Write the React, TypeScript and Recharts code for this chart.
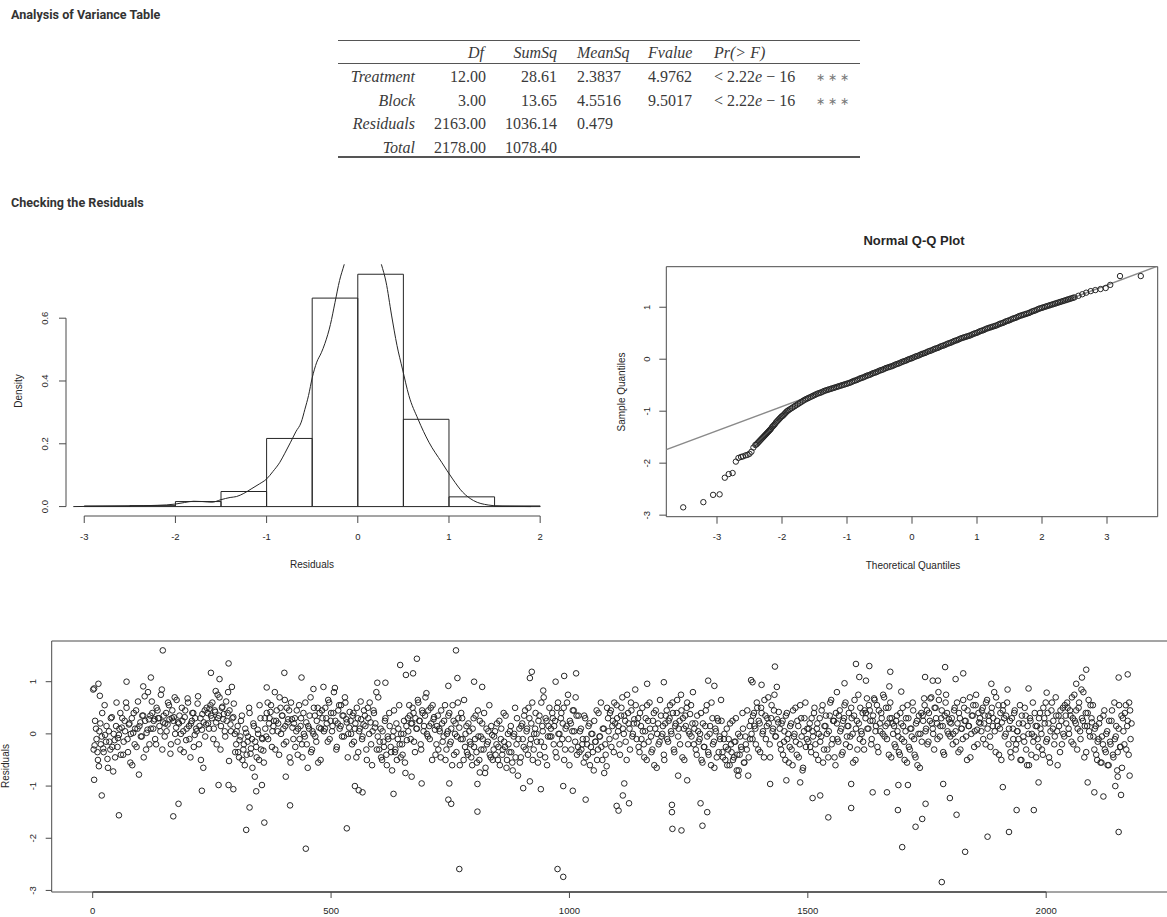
import {
  ComposedChart,
  Line,
  ReferenceArea,
  ReferenceLine,
  Scatter,
  ScatterChart,
  XAxis,
  YAxis,
} from 'recharts';

const ink = '#262626';
const axisInk = '#4a4a4a';
const rFont = '"Liberation Sans", Arial, Helvetica, sans-serif';
const texFont = '"Liberation Serif", "Times New Roman", serif';

// ANOVA table
const anovaHeader = ['Df', 'SumSq', 'MeanSq', 'Fvalue', 'Pr(> F)'];
const anovaTerms = ['Treatment', 'Block', 'Residuals', 'Total'];
const anovaDf = ['12.00', '3.00', '2163.00', '2178.00'];
const anovaSumSq = ['28.61', '13.65', '1036.14', '1078.40'];
const anovaMeanSq = ['2.3837', '4.5516', '0.479', ''];
const anovaF = ['4.9762', '9.5017', '', ''];
const anovaP = ['< 2.22e − 16', '< 2.22e − 16', '', ''];
const anovaSig = ['∗ ∗ ∗', '∗ ∗ ∗', '', ''];

// histogram of residuals
const histBreaks = [-3, -2.5, -2, -1.5, -1, -0.5, 0, 0.5, 1, 1.5, 2];
const histDensity = [0.002, 0.003, 0.016, 0.048, 0.217, 0.664, 0.74, 0.278, 0.031, 0.002];
const histXTicks = [-3, -2, -1, 0, 1, 2];
const histYTicks = [0, 0.2, 0.4, 0.6];
const densityCurve: [number, number][] = [
  [-3.12, 0], [-2.8, 0.001], [-2.5, 0.002], [-2.2, 0.004], [-2.0, 0.008], [-1.9, 0.013],
  [-1.8, 0.017], [-1.7, 0.016], [-1.6, 0.014], [-1.5, 0.022], [-1.4, 0.029], [-1.33, 0.032],
  [-1.25, 0.042], [-1.17, 0.056], [-1.08, 0.072], [-1.0, 0.088], [-0.93, 0.112], [-0.855, 0.141],
  [-0.8, 0.17], [-0.737, 0.205], [-0.68, 0.238], [-0.62, 0.269], [-0.58, 0.31], [-0.54, 0.354],
  [-0.5, 0.41], [-0.45, 0.46], [-0.4, 0.49], [-0.36, 0.52], [-0.3, 0.58], [-0.25, 0.65],
  [-0.2, 0.72], [-0.15, 0.77], [-0.1, 0.82], [0.0, 0.87], [0.1, 0.88], [0.2, 0.82],
  [0.26, 0.77], [0.31, 0.715], [0.37, 0.61], [0.43, 0.513], [0.49, 0.438], [0.56, 0.354],
  [0.66, 0.279], [0.78, 0.205], [0.92, 0.141], [1.04, 0.088], [1.15, 0.046], [1.27, 0.019],
  [1.43, 0.005], [1.59, 0.001], [1.9, 0],
];

// normal Q-Q plot: [theoretical, sample]
const qqPoints: [number, number][] = [
  [-3.52, -2.85], [-3.21, -2.75], [-3.06, -2.61], [-2.96, -2.6], [-2.88, -2.28], [-2.82, -2.21],
  [-2.76, -2.19], [-2.71, -1.97], [-2.67, -1.9], [-2.63, -1.88], [-2.6, -1.87], [-2.56, -1.85],
  [-2.53, -1.84], [-2.5, -1.82], [-2.47, -1.78], [-2.44, -1.7], [-2.41, -1.65], [-2.38, -1.62],
  [-2.35, -1.58], [-2.32, -1.54], [-2.29, -1.5], [-2.26, -1.46], [-2.23, -1.42], [-2.2, -1.38],
  [-2.17, -1.34], [-2.14, -1.29], [-2.11, -1.25], [-2.08, -1.2], [-2.05, -1.16], [-2.02, -1.12],
  [-1.99, -1.09], [-1.96, -1.05], [-1.93, -1.01], [-1.9, -0.98], [-1.85, -0.94], [-1.8, -0.9],
  [-1.75, -0.86], [-1.7, -0.82], [-1.65, -0.78], [-1.6, -0.75], [-1.55, -0.72], [-1.5, -0.69],
  [-1.45, -0.66], [-1.4, -0.64], [-1.35, -0.61], [-1.3, -0.59], [-1.25, -0.57], [-1.2, -0.55],
  [-1.15, -0.53], [-1.1, -0.51], [-1.05, -0.49], [-1.0, -0.47], [-0.95, -0.45], [-0.9, -0.42],
  [-0.85, -0.4], [-0.8, -0.37], [-0.75, -0.35], [-0.7, -0.32], [-0.65, -0.3], [-0.6, -0.27],
  [-0.55, -0.25], [-0.5, -0.22], [-0.45, -0.2], [-0.4, -0.17], [-0.35, -0.15], [-0.3, -0.13],
  [-0.25, -0.1], [-0.2, -0.08], [-0.15, -0.05], [-0.1, -0.03], [-0.05, 0.0], [0.0, 0.02],
  [0.05, 0.05], [0.1, 0.07], [0.15, 0.1], [0.2, 0.12], [0.25, 0.15], [0.3, 0.17],
  [0.35, 0.2], [0.4, 0.22], [0.45, 0.25], [0.5, 0.27], [0.55, 0.3], [0.6, 0.32],
  [0.65, 0.35], [0.7, 0.37], [0.75, 0.4], [0.8, 0.42], [0.85, 0.44], [0.9, 0.46],
  [0.95, 0.49], [1.0, 0.51], [1.05, 0.54], [1.1, 0.56], [1.15, 0.59], [1.2, 0.61],
  [1.25, 0.63], [1.3, 0.65], [1.35, 0.68], [1.4, 0.7], [1.45, 0.73], [1.5, 0.75],
  [1.55, 0.78], [1.6, 0.8], [1.65, 0.83], [1.7, 0.85], [1.75, 0.87], [1.8, 0.89],
  [1.85, 0.92], [1.9, 0.94], [1.95, 0.97], [2.0, 0.99], [2.05, 1.01], [2.1, 1.03],
  [2.15, 1.05], [2.2, 1.07], [2.25, 1.09], [2.3, 1.11], [2.35, 1.13], [2.4, 1.15],
  [2.45, 1.17], [2.5, 1.19], [2.56, 1.22], [2.62, 1.25], [2.68, 1.28], [2.75, 1.31],
  [2.82, 1.33], [2.9, 1.35], [2.98, 1.37], [3.05, 1.43], [3.2, 1.6], [3.52, 1.6],
];
// further readings where the Q-Q points merge into a solid band
const qqPointsBand: [number, number][] = [
  [-2.395, -1.64], [-2.365, -1.6], [-2.335, -1.56], [-2.305, -1.52], [-2.275, -1.48], [-2.245, -1.44],
  [-2.215, -1.4], [-2.185, -1.36], [-2.155, -1.31], [-2.125, -1.27], [-2.095, -1.22], [-2.065, -1.18],
  [-2.035, -1.14], [-2.005, -1.1], [-1.975, -1.07], [-1.945, -1.03], [-1.915, -0.995], [-1.875, -0.96],
  [-1.825, -0.92], [-1.775, -0.88], [-1.725, -0.84], [-1.675, -0.8], [-1.625, -0.765], [-1.575, -0.735],
  [-1.525, -0.705], [-1.475, -0.675], [-1.425, -0.65], [-1.375, -0.625], [-1.325, -0.6], [-1.275, -0.58],
  [-1.225, -0.56], [-1.175, -0.54], [-1.125, -0.52], [-1.075, -0.5], [-1.025, -0.48], [-0.975, -0.46],
  [-0.925, -0.435], [-0.875, -0.41], [-0.825, -0.385], [-0.775, -0.36], [-0.725, -0.335], [-0.675, -0.31],
  [-0.625, -0.285], [-0.575, -0.26], [-0.525, -0.235], [-0.475, -0.21], [-0.425, -0.185], [-0.375, -0.16],
  [-0.325, -0.14], [-0.275, -0.115], [-0.225, -0.09], [-0.175, -0.065], [-0.125, -0.04], [-0.075, -0.015],
  [-0.025, 0.01], [0.025, 0.035], [0.075, 0.06], [0.125, 0.085], [0.175, 0.11], [0.225, 0.135],
  [0.275, 0.16], [0.325, 0.185], [0.375, 0.21], [0.425, 0.235], [0.475, 0.26], [0.525, 0.285],
  [0.575, 0.31], [0.625, 0.335], [0.675, 0.36], [0.725, 0.385], [0.775, 0.41], [0.825, 0.43],
  [0.875, 0.45], [0.925, 0.475], [0.975, 0.5], [1.025, 0.525], [1.075, 0.55], [1.125, 0.575],
  [1.175, 0.6], [1.225, 0.62], [1.275, 0.64], [1.325, 0.665], [1.375, 0.69], [1.425, 0.715],
  [1.475, 0.74], [1.525, 0.765], [1.575, 0.79], [1.625, 0.815], [1.675, 0.84], [1.725, 0.86],
  [1.775, 0.88], [1.825, 0.905], [1.875, 0.93], [1.925, 0.955], [1.975, 0.98], [2.025, 1.0],
  [2.075, 1.02], [2.125, 1.04], [2.175, 1.06], [2.225, 1.08], [2.275, 1.1], [2.325, 1.12],
  [2.375, 1.14], [2.425, 1.16], [2.475, 1.18],
];
const qqIntercept = 0.025;
const qqSlope = 0.467;
const qqXTicks = [-3, -2, -1, 0, 1, 2, 3];
const qqYTicks = [-3, -2, -1, 0, 1];

// residuals vs observation, read in two interleaved passes: obs 1, 4, 7, ... and obs 2, 5, 8, ...
const sampleStep = 3;
const residualSampleA = [
  0.85, -0.22, 0.1, -0.35, -0.62, 0.2, -0.05, -0.28, 0.55, -0.15, -0.48, 0.05, -0.3, 0.32, -0.72, -0.12, 0.15, -0.25, -0.02, 0.4,
  0.12, -0.4, 0.25, 0.6, -0.1, 0.18, -0.55, 0.3, 0.02, -0.2, 0.45, 0.1, -0.78, 0.22, -0.05, 0.35, 0.72, -0.3, 0.08, 0.28,
  0.35, 0.62, 0.1, 0.28, -0.2, 0.45, 0.3, 0.05, 0.85, 0.22, -0.05, 0.4, 0.18, 0.55, -0.38, 0.3, 0.25, 0.7, 0.12, -0.15,
  0.2, -0.3, 0.5, 0.05, 0.32, -0.12, 0.68, 0.15, -0.45, 0.25, 0.4, -0.02, 0.1, 0.58, -0.2, 0.3, 0.08, -0.65, 0.45, 0.18,
  0.4, 0.1, 0.55, 0.3, -0.1, 0.45, 0.22, 0.75, 0.35, -0.3, 0.5, 0.28, 0.05, 0.62, 0.4, -0.52, 0.18, 0.9, 0.32, 0.0,
  -0.2, 0.15, -0.45, -0.05, 0.35, -0.3, -0.6, 0.02, -0.15, 0.5, -0.38, -0.1, 0.2, -0.82, -0.25, 0.08, -0.5, 0.3, -0.08, -0.32,
  0.3, -0.05, 0.6, 0.2, 0.42, -0.25, 0.15, 0.8, 0.25, 0.05, -0.4, 0.5, 0.35, 0.1, 0.65, -0.15, 0.22, 0.45, -0.55, 0.28,
  -0.1, 0.3, 0.05, -0.4, 0.55, 0.15, -0.2, 0.4, -0.05, 0.22, -0.65, 0.1, 0.7, -0.3, 0.0, 0.35, -0.15, 0.5, 0.12, -0.5,
  0.45, 0.9, 0.1, 0.3, -0.15, 0.6, 0.25, 0.05, 0.4, 0.88, -0.3, 0.2, 0.55, 0.15, -0.05, 0.35, 0.7, 0.28, -0.45, 0.12,
  0.25, -0.2, 0.4, 0.1, -0.45, 0.3, 0.05, 0.62, -0.1, 0.18, 0.35, -0.3, 0.5, 0.0, 0.22, -0.6, 0.45, 0.12, 0.8, -0.05,
  -0.3, 0.1, -0.5, -0.15, 0.25, -0.4, -0.05, 0.4, -0.25, -0.7, 0.05, -0.35, 0.2, -0.1, 0.55, -0.45, -0.2, 0.0, -0.55, 0.15,
  0.3, 0.55, -0.1, 0.2, 0.4, -0.35, 0.1, 0.65, 0.25, -0.2, 0.45, 0.05, 0.35, 0.78, -0.05, 0.15, 0.5, -0.5, 0.28, 0.08,
  -0.2, 0.35, 0.1, -0.45, 0.2, -0.05, 0.55, -0.3, 0.05, 0.4, -0.15, -0.6, 0.25, 0.0, -0.35, 0.6, 0.12, -0.1, 0.3, -0.5,
  -0.25, 0.15, -0.4, 0.05, -0.2, -0.6, 0.3, -0.1, -0.35, 0.45, -0.5, -0.05, 0.2, -0.3, -0.75, 0.1, -0.15, 0.55, -0.45, -0.02,
  -0.3, 0.05, -0.2, -0.5, 0.25, -0.1, -0.4, 0.4, -0.25, -0.65, 0.0, -0.35, 0.15, -0.55, -0.05, 0.5, -0.2, -0.8, 0.1, -0.45,
  0.2, -0.25, 0.45, 0.05, -0.4, 0.3, -0.1, 0.6, -0.3, 0.1, 0.0, -0.55, 0.35, -0.15, 0.15, 0.7, -0.45, 0.25, -0.05, 0.5,
  0.1, 0.4, -0.2, 0.25, -0.45, 0.6, 0.0, 0.3, -0.1, 0.5, -0.3, 0.15, 0.75, -0.6, 0.2, 0.05, 0.45, -0.15, 0.35, -0.25,
  -0.35, 0.1, -0.2, -0.55, 0.3, -0.1, -0.4, 0.2, -0.25, 0.0, -0.7, -0.15, 0.45, -0.3, -0.05, 0.6, -0.5, 0.1, -0.2, -0.62,
  0.3, -0.1, 0.45, 0.15, -0.35, 0.2, 0.55, 0.05, -0.2, 0.35, 0.7, 0.0, 0.25, -0.5, 0.4, 0.1, 0.6, -0.05, 0.2, 0.85,
  -0.1, 0.3, -0.35, 0.15, 0.5, -0.2, 0.05, -0.5, 0.25, 0.6, -0.05, -0.3, 0.4, 0.1, -0.65, 0.2, -0.15, 0.35, 0.0, -0.4,
  0.2, 0.45, -0.15, 0.3, 0.05, 0.6, -0.3, 0.15, 0.4, -0.05, 0.25, 0.75, -0.45, 0.1, 0.35, 0.5, -0.2, 0.0, 0.55, 0.2,
  -0.2, 0.2, -0.4, 0.05, -0.1, 0.4, -0.55, -0.25, 0.15, 0.55, -0.35, 0.0, -0.6, 0.3, -0.15, 0.1, -0.45, 0.25, -0.05, 0.65,
  -0.35, -0.1, -0.5, 0.1, -0.3, -0.6, -0.2, 0.25, -0.45, -0.15, -0.7, 0.0, -0.4, -0.25, 0.4, -0.55, -0.05, -0.3, -0.8, 0.15,
  0.25, -0.1, 0.4, 0.1, 0.6, -0.3, 0.2, 0.5, 0.0, -0.45, 0.35, 0.15, 0.7, -0.2, 0.3, 0.05, 0.45, -0.05, 0.9, 0.22,
  0.1, -0.3, 0.25, -0.15, -0.5, 0.4, 0.0, -0.25, 0.2, -0.6, -0.05, 0.5, -0.4, 0.15, -0.2, 0.3, -0.7, 0.05, 0.6, -0.1,
  -0.15, 0.2, -0.35, 0.05, 0.4, -0.2, 0.1, -0.5, 0.3, -0.05, 0.55, -0.3, 0.15, 0.0, -0.45, 0.35, 0.65, -0.1, 0.25, -0.6,
  0.2, -0.15, 0.45, 0.1, -0.35, 0.3, 0.6, -0.05, 0.15, -0.25, 0.5, 0.0, 0.35, -0.5, 0.25, 0.75, -0.1, 0.05, 0.4, -0.3,
  0.3, 0.68, 0.1, 0.45, -0.2, 0.25, 0.68, 0.05, 0.55, -0.35, 0.2, 0.4, 0.0, 0.7, 0.15, -0.1, 0.5, 0.3, -0.45, 0.2,
  0.15, -0.25, 0.35, -0.05, -0.4, 0.2, 0.5, -0.15, 0.05, -0.55, 0.3, -0.3, 0.1, 0.6, -0.1, -0.45, 0.25, 0.0, -0.65, 0.4,
  0.35, 0.68, 0.05, 0.45, -0.15, 0.25, 0.7, 0.1, -0.3, 0.5, 0.2, 0.8, -0.05, 0.3, 0.15, -0.4, 0.6, 0.4, 0.0, 0.22,
  0.2, -0.2, 0.45, 0.05, 0.6, -0.35, 0.3, 0.1, -0.1, 0.5, 0.25, -0.5, 0.15, 0.7, 0.0, 0.35, -0.25, 0.55, 0.08, 0.4,
  0.3, 0.05, 0.5, 0.2, -0.2, 0.65, 0.35, -0.05, 0.4, 0.15, 0.8, -0.35, 0.25, 0.55, 0.1, -0.5, 0.45, 0.3, 0.0, 0.6,
  -0.2, 0.25, -0.45, 0.1, 0.4, -0.3, 0.05, -0.1, 0.55, -0.5, 0.2, -0.15, 0.35, -0.6, 0.0, 0.3, -0.4, 0.6, -0.05, 0.15,
  0.15, -0.25, 0.4, 0.0, -0.4, 0.3, 0.6, -0.1, 0.2, -0.55, 0.45, 0.1, -0.2, 0.7, 0.05, 0.35, -0.35, 0.25, 0.5, -0.05,
  0.35, 0.6, 0.1, 0.45, -0.15, 0.3, 0.75, 0.2, -0.3, 0.5, 0.05, 0.85, 0.25, -0.45, 0.4, 0.15, 0.65, -0.05, 0.3, 0.55,
  -0.3, 0.15, -0.5, -0.1, 0.3, -0.55, -0.2, 0.45, -0.35, 0.05, -0.6, -0.15, 0.25, -0.4, 0.6, -0.05, -0.7, 0.1, -0.25, 0.35,
  0.3, -0.2, 0.55, 0.15, -0.4, 0.45, 0.2,
];
const residualSampleB = [
  -0.3, 0.25, -0.1, -0.5, 0.05, -0.2, 0.4, -0.35, -0.02, 0.15, -0.65, -0.15, 0.3, -0.25, 0.0, -0.45, 0.6, -0.08, 0.1, -0.4,
  0.3, -0.15, 0.05, 0.5, -0.35, 0.2, 0.0, -0.6, 0.4, 0.1, -0.25, 0.62, 0.15, -0.05, 0.35, -0.45, 0.25, 0.02, 0.8, -0.2,
  0.1, 0.4, 0.25, -0.1, 0.5, 0.3, 0.15, 0.75, -0.3, 0.35, 0.2, 0.05, 0.6, 0.28, -0.2, 0.45, 0.32, 0.0, 0.65, 0.22,
  0.35, 0.0, 0.25, -0.35, 0.45, 0.1, 0.6, -0.1, 0.2, 0.4, -0.25, 0.3, 0.05, 0.72, 0.15, -0.5, 0.38, 0.22, -0.05, 0.5,
  0.2, 0.48, 0.35, 0.6, 0.1, 0.42, -0.2, 0.3, 0.7, 0.15, 0.52, 0.38, -0.05, 0.25, 0.8, 0.45, 0.05, 0.3, 0.58, -0.35,
  0.05, -0.35, -0.12, 0.25, -0.5, -0.2, 0.1, -0.4, -0.05, 0.4, -0.28, -0.65, 0.15, -0.15, -0.45, 0.0, 0.55, -0.3, -0.1, -0.55,
  0.1, 0.4, -0.1, 0.3, 0.55, 0.05, 0.25, -0.3, 0.45, 0.2, 0.7, 0.0, 0.35, -0.2, 0.15, 0.5, 0.28, -0.45, 0.6, 0.12,
  0.2, -0.25, 0.45, 0.1, -0.1, 0.3, -0.45, 0.0, 0.6, -0.2, 0.15, 0.35, -0.35, 0.05, 0.5, -0.05, 0.25, -0.55, 0.4, 0.1,
  0.3, 0.05, 0.5, 0.2, 0.65, -0.1, 0.4, 0.15, 0.8, 0.25, -0.25, 0.45, 0.1, 0.55, 0.35, -0.05, 0.6, 0.22, 0.0, 0.42,
  0.0, 0.35, -0.15, 0.2, 0.5, -0.35, 0.1, 0.28, -0.05, 0.45, 0.15, -0.5, 0.3, 0.6, -0.2, 0.05, 0.4, 0.2, -0.3, 0.7,
  -0.15, -0.45, 0.05, -0.25, 0.3, -0.6, -0.1, 0.15, -0.35, -0.05, 0.45, -0.3, -0.5, 0.1, -0.2, 0.0, -0.4, 0.25, -0.75, -0.12,
  0.05, 0.35, 0.2, 0.5, -0.15, 0.3, 0.1, 0.6, 0.25, -0.3, 0.4, 0.15, 0.7, 0.0, 0.45, -0.1, 0.2, 0.55, 0.32, -0.4,
  0.15, -0.3, 0.05, 0.45, -0.15, 0.25, -0.5, 0.0, 0.35, -0.2, 0.1, 0.55, -0.4, 0.2, -0.05, 0.3, -0.6, 0.4, -0.1, 0.65,
  0.0, -0.35, 0.2, -0.15, -0.45, 0.1, -0.25, 0.35, -0.55, -0.05, 0.25, -0.3, -0.1, 0.4, -0.65, -0.2, 0.05, -0.4, 0.15, -0.5,
  -0.05, -0.4, 0.2, -0.25, -0.6, 0.1, -0.3, -0.15, 0.35, -0.5, -0.2, 0.05, -0.35, -0.7, 0.0, -0.45, 0.3, -0.1, -0.55, 0.15,
  -0.1, 0.35, -0.3, 0.1, 0.5, -0.2, 0.2, -0.5, 0.0, 0.4, -0.15, 0.25, -0.4, 0.6, 0.05, -0.25, 0.3, -0.6, 0.15, -0.05,
  -0.05, 0.3, 0.15, -0.35, 0.5, 0.0, -0.2, 0.4, 0.2, -0.5, 0.1, 0.6, -0.1, 0.25, -0.3, 0.45, 0.05, 0.7, -0.4, 0.35,
  0.05, -0.3, -0.1, 0.35, -0.45, -0.2, 0.15, -0.6, 0.0, -0.35, 0.25, -0.15, -0.5, 0.4, -0.05, -0.25, 0.1, -0.75, -0.4, 0.5,
  0.05, 0.4, -0.25, 0.25, 0.6, -0.05, 0.3, 0.15, -0.4, 0.5, 0.1, 0.35, -0.15, 0.75, 0.2, -0.3, 0.45, 0.0, 0.28, 0.55,
  0.2, -0.25, 0.4, -0.1, 0.05, -0.45, 0.3, 0.55, -0.15, 0.1, -0.35, 0.25, -0.6, 0.45, 0.0, -0.2, 0.65, -0.05, 0.15, -0.5,
  0.35, -0.1, 0.25, 0.55, 0.0, 0.4, -0.35, 0.2, 0.65, 0.1, -0.2, 0.45, 0.3, -0.5, 0.15, 0.6, 0.05, 0.38, -0.05, 0.8,
  0.1, -0.3, 0.35, -0.15, 0.0, -0.5, 0.2, -0.25, 0.45, -0.05, -0.4, 0.15, 0.6, -0.2, -0.65, 0.05, 0.3, -0.35, -0.1, 0.25,
  -0.45, 0.0, -0.25, -0.6, -0.1, 0.2, -0.35, -0.5, -0.15, 0.3, -0.4, -0.7, -0.05, -0.3, 0.1, -0.55, -0.2, 0.45, -0.45, -0.1,
  0.0, 0.35, 0.15, -0.2, 0.5, 0.25, -0.35, 0.4, 0.05, 0.65, -0.1, 0.3, 0.2, -0.45, 0.55, 0.1, 0.75, -0.05, 0.28, 0.42,
  -0.2, 0.2, -0.4, 0.05, 0.35, -0.1, -0.55, 0.15, -0.3, 0.45, 0.0, -0.15, 0.25, -0.45, 0.55, -0.05, -0.65, 0.3, -0.25, 0.1,
  0.1, -0.25, 0.3, -0.05, 0.5, -0.4, 0.2, 0.0, -0.15, 0.45, -0.55, 0.15, 0.35, -0.3, 0.05, 0.6, -0.2, 0.25, -0.45, 0.4,
  -0.1, 0.35, 0.05, -0.4, 0.25, 0.55, -0.2, 0.15, 0.4, -0.05, 0.3, -0.55, 0.65, 0.1, -0.3, 0.2, 0.5, 0.0, -0.15, 0.45,
  0.4, 0.1, 0.55, 0.25, -0.1, 0.35, 0.65, 0.15, -0.25, 0.45, 0.05, 0.3, 0.75, -0.05, 0.5, 0.2, -0.4, 0.6, 0.3, 0.0,
  -0.2, 0.25, 0.05, -0.35, 0.4, -0.1, 0.15, -0.5, 0.3, 0.55, -0.25, 0.1, -0.05, 0.45, -0.4, 0.2, -0.6, 0.35, 0.0, -0.15,
  0.25, 0.55, 0.1, -0.2, 0.4, 0.68, 0.2, 0.0, 0.5, 0.3, -0.1, 0.65, 0.15, 0.45, -0.35, 0.35, 0.75, 0.05, 0.28, -0.05,
  0.3, 0.0, 0.5, -0.15, 0.2, 0.4, -0.3, 0.1, 0.65, 0.25, -0.05, 0.45, 0.15, -0.45, 0.35, 0.55, 0.05, 0.75, -0.2, 0.22,
  0.2, 0.45, -0.1, 0.35, 0.6, 0.1, 0.25, -0.25, 0.5, 0.3, 0.05, 0.7, 0.15, -0.4, 0.4, 0.22, 0.55, -0.05, 0.35, 0.85,
  0.1, -0.35, 0.3, -0.1, 0.45, -0.2, 0.05, 0.2, -0.5, 0.35, -0.05, 0.5, -0.3, 0.15, -0.6, 0.25, 0.0, -0.15, 0.4, -0.45,
  -0.1, 0.3, 0.1, -0.3, 0.5, 0.2, -0.15, 0.4, -0.45, 0.05, 0.6, 0.25, -0.05, 0.35, -0.6, 0.15, 0.45, -0.2, 0.0, 0.55,
  0.2, 0.5, 0.0, 0.35, 0.7, -0.2, 0.25, 0.45, 0.1, 0.6, -0.1, 0.3, 0.8, 0.15, -0.35, 0.4, 0.05, 0.55, 0.22, -0.05,
  0.1, -0.4, -0.15, 0.2, -0.55, -0.05, 0.35, -0.3, 0.0, -0.6, 0.25, -0.2, 0.45, -0.45, -0.1, 0.15, -0.35, 0.55, -0.25, -0.65,
  0.05, 0.4, -0.3, 0.25, 0.6, -0.1,
];
// outlying observations read individually: [observation, residual]
const residualExtremes: [number, number][] = [
  [3, 0.87], [12, 0.96], [15, 0.73], [3, -0.88], [19, -1.18], [55, -1.56], [71, 1.0], [106, 0.91],
  [122, 1.08], [147, 1.6], [169, -1.58], [180, -1.34], [229, -1.09], [248, 1.17], [258, 0.82], [266, 1.05],
  [264, -0.98], [285, 1.35], [285, -0.98], [295, -1.06], [322, -1.84], [329, -1.41], [343, -1.1], [355, -0.98],
  [360, -1.7], [365, 0.89], [402, 1.17], [405, -0.82], [414, -1.37], [438, 1.08], [447, -2.2], [463, 0.86],
  [533, -1.81], [550, -1.0], [558, -1.08], [566, -1.12], [597, 0.98], [614, 0.98], [631, -1.15], [645, 1.32],
  [657, 1.13], [669, -0.82], [672, 1.16], [680, 1.44], [690, -0.95], [746, -1.26], [746, 0.92], [748, -0.95],
  [752, -1.34], [762, 1.6], [765, 1.07], [769, -2.59], [800, 1.0], [807, -1.49], [807, -0.96], [812, -0.74],
  [817, 0.9], [903, -1.04], [917, -0.91], [917, 1.07], [921, 1.19], [940, -1.06], [945, 0.83], [971, 1.0],
  [975, -2.59], [987, -2.74], [987, -1.0], [989, 1.11], [1007, -1.09], [1014, 1.16], [1034, -1.26], [1099, -1.38],
  [1103, -1.47], [1112, -1.18], [1115, -0.95], [1125, -1.33], [1163, 0.96], [1198, 0.99], [1215, -1.36], [1216, -1.82],
  [1215, -1.5], [1228, -0.8], [1235, -1.85], [1247, -0.89], [1275, -1.33], [1279, -1.76], [1289, -1.5], [1291, 1.02],
  [1304, 0.92], [1354, -0.8], [1381, 1.03], [1384, 0.99], [1403, 0.94], [1421, -0.96], [1431, 1.29], [1455, -0.89],
  [1484, -0.93], [1510, -1.23], [1526, -1.18], [1543, -1.6], [1561, 0.8], [1577, 0.97], [1591, -1.42], [1591, -0.96],
  [1601, 1.34], [1608, 1.09], [1622, 1.02], [1629, 1.3], [1636, -1.12], [1666, -1.12], [1671, 0.91], [1673, 1.19],
  [1689, -1.46], [1690, -0.98], [1696, 0.81], [1698, -2.17], [1710, -0.98], [1726, -1.78], [1740, -1.63], [1747, -1.34],
  [1746, 1.09], [1762, 1.02], [1773, 1.02], [1781, -2.84], [1784, -0.96], [1788, 1.28], [1798, -1.23], [1810, 1.05],
  [1812, -1.55], [1826, 1.16], [1830, -2.26], [1877, -1.97], [1885, 0.96], [1909, -1.02], [1922, -1.88], [1938, -1.46],
  [1963, 0.87], [1974, -1.46], [1984, -0.93], [2001, 0.79], [2063, 0.96], [2075, 1.08], [2084, 1.23], [2087, -0.93],
  [2101, -1.12], [2120, -1.2], [2145, -1.0], [2150, -0.82], [2152, 1.08], [2152, -1.88], [2157, -1.17], [2171, 1.14],
  [2175, -0.8],
];
const obsTicks = [0, 500, 1000, 1500, 2000];
const resTicks = [-3, -2, -1, 0, 1];

// plot ranges (R's 4% extension)
const histXDomain: [number, number] = [-3.2, 2.2];
const histYDomain: [number, number] = [-0.03, 0.772];
const qqXDomain: [number, number] = [-3.78, 3.78];
const resYDomain: [number, number] = [-3.03, 1.78];
const obsDomain: [number, number] = [-86, 2266];

function BottomTick(props: any) {
  const { x, y, payload } = props;
  return (
    <text x={x} y={y + 13} textAnchor="middle" dominantBaseline="central" fontSize={9.5} fontFamily={rFont} fill={ink}>
      {payload.value}
    </text>
  );
}

function leftTick(shift: number, digits?: number) {
  return (props: any) => {
    const { x, y, payload } = props;
    const cx = x - shift;
    const label = digits === undefined ? String(payload.value) : Number(payload.value).toFixed(digits);
    return (
      <text
        x={cx}
        y={y}
        transform={`rotate(-90 ${cx} ${y})`}
        textAnchor="middle"
        dominantBaseline="central"
        fontSize={9.5}
        fontFamily={rFont}
        fill={ink}
      >
        {label}
      </text>
    );
  };
}

function ringShape(r: number) {
  return (p: any) => <circle cx={p.cx} cy={p.cy} r={r} fill="none" stroke={ink} strokeWidth={1} />;
}

function AxisTitle({ x, y, text, rotate = false, size = 10, bold = false }: any) {
  return (
    <div
      style={{
        position: 'absolute',
        left: x,
        top: y,
        transform: `translate(-50%, -50%)${rotate ? ' rotate(-90deg)' : ''}`,
        whiteSpace: 'nowrap',
        fontFamily: rFont,
        fontSize: size,
        fontWeight: bold ? 700 : 400,
        color: ink,
        lineHeight: 1,
      }}
    >
      {text}
    </div>
  );
}

function Heading({ top, text }: { top: number; text: string }) {
  return (
    <div
      style={{
        position: 'absolute',
        left: 11,
        top: top - 8,
        height: 16,
        lineHeight: '16px',
        fontFamily: 'Roboto, "Noto Sans", sans-serif',
        fontWeight: 700,
        fontSize: 12.6,
        color: '#333',
      }}
    >
      {text}
    </div>
  );
}

function PValue({ text }: { text: string }) {
  const parts = text.split('e');
  if (parts.length < 2) return <>{text}</>;
  return (
    <>
      {parts[0]}
      <i>e</i>
      {parts[1]}
    </>
  );
}

function AnovaTable() {
  const rowY = [77, 100.7, 124.4, 148];
  const headerY = 53;
  const cell = (key: string, y: number, content: any, opts: { left?: number; right?: number; italic?: boolean; size?: number; color?: string }) => (
    <div
      key={key}
      style={{
        position: 'absolute',
        top: y - 10,
        height: 20,
        lineHeight: '20px',
        left: opts.left,
        right: opts.right !== undefined ? 1167 - opts.right : undefined,
        fontFamily: texFont,
        fontStyle: opts.italic ? 'italic' : 'normal',
        fontSize: opts.size ?? 16,
        color: opts.color ?? '#3a3a3a',
        whiteSpace: 'nowrap',
      }}
    >
      {content}
    </div>
  );
  const rule = (y: number, w: number) => (
    <div style={{ position: 'absolute', left: 338, width: 522, top: y - w / 2, height: w, background: '#555' }} />
  );
  return (
    <>
      {rule(40.5, 1.5)}
      {rule(63.5, 1)}
      {rule(157, 1.5)}
      {cell('h0', headerY, anovaHeader[0], { right: 484, italic: true })}
      {cell('h1', headerY, anovaHeader[1], { right: 557, italic: true })}
      {cell('h2', headerY, anovaHeader[2], { left: 577, italic: true })}
      {cell('h3', headerY, anovaHeader[3], { left: 648, italic: true })}
      {cell('h4', headerY, anovaHeader[4], { left: 714, italic: true })}
      {anovaTerms.map((term, i) => (
        <div key={term}>
          {cell(`t${i}`, rowY[i], term, { right: 415, italic: true })}
          {cell(`d${i}`, rowY[i], anovaDf[i], { right: 486 })}
          {cell(`s${i}`, rowY[i], anovaSumSq[i], { right: 557 })}
          {cell(`m${i}`, rowY[i], anovaMeanSq[i], { left: 577 })}
          {cell(`f${i}`, rowY[i], anovaF[i], { left: 648 })}
          {cell(`p${i}`, rowY[i], <PValue text={anovaP[i]} />, { left: 714 })}
          {cell(`g${i}`, rowY[i], anovaSig[i], { left: 816, size: 11, color: '#777' })}
        </div>
      ))}
    </>
  );
}

function Histogram() {
  const curve = densityCurve.map(([x, d]) => ({ x, d }));
  const bins = histDensity.map((d, i) => ({ x1: histBreaks[i], x2: histBreaks[i + 1], d }));
  return (
    <ComposedChart width={580} height={340} data={curve} margin={{ top: 14.2, right: 21.6, bottom: 0, left: 0 }}>
      <XAxis
        type="number"
        dataKey="x"
        domain={histXDomain}
        allowDataOverflow
        ticks={histXTicks}
        interval={0}
        height={74}
        axisLine={false}
        tickSize={7}
        tickMargin={0}
        tickLine={{ stroke: axisInk }}
        tick={BottomTick}
      />
      <YAxis
        type="number"
        domain={histYDomain}
        allowDataOverflow
        ticks={histYTicks}
        interval={0}
        width={66}
        axisLine={false}
        tickSize={7}
        tickMargin={0}
        tickLine={{ stroke: axisInk }}
        tick={leftTick(14, 1)}
      />
      {bins.map((b) => (
        <ReferenceArea
          key={b.x1}
          x1={b.x1}
          x2={b.x2}
          y1={0}
          y2={b.d}
          fill="none"
          stroke={ink}
          strokeWidth={1}
          ifOverflow="visible"
        />
      ))}
      <Line dataKey="d" type="monotone" dot={false} stroke={ink} strokeWidth={1} isAnimationActive={false} />
      <ReferenceLine
        segment={[{ x: histXTicks[0], y: histYDomain[0] }, { x: histXTicks[histXTicks.length - 1], y: histYDomain[0] }]}
        stroke={axisInk}
        ifOverflow="visible"
      />
      <ReferenceLine
        segment={[{ x: histXDomain[0], y: histYTicks[0] }, { x: histXDomain[0], y: histYTicks[histYTicks.length - 1] }]}
        stroke={axisInk}
        ifOverflow="visible"
      />
    </ComposedChart>
  );
}

function QQPlot() {
  const pts = qqPoints.map(([t, s]) => ({ t, s }));
  const band = qqPointsBand.map(([t, s]) => ({ t, s }));
  return (
    <ScatterChart width={567} height={360} margin={{ top: 41.7, right: 9.3, bottom: 0, left: 0 }}>
      <XAxis
        type="number"
        dataKey="t"
        domain={qqXDomain}
        allowDataOverflow
        ticks={qqXTicks}
        interval={0}
        height={68.3}
        axisLine={false}
        tickSize={7}
        tickMargin={0}
        tickLine={{ stroke: axisInk }}
        tick={BottomTick}
      />
      <YAxis
        type="number"
        dataKey="s"
        domain={resYDomain}
        allowDataOverflow
        ticks={qqYTicks}
        interval={0}
        width={66.3}
        axisLine={false}
        tickSize={7}
        tickMargin={0}
        tickLine={{ stroke: axisInk }}
        tick={leftTick(12.5)}
      />
      <ReferenceArea
        x1={qqXDomain[0]}
        x2={qqXDomain[1]}
        y1={resYDomain[0]}
        y2={resYDomain[1]}
        fill="none"
        stroke={axisInk}
        ifOverflow="visible"
      />
      <ReferenceLine
        segment={[
          { x: qqXDomain[0], y: qqIntercept + qqSlope * qqXDomain[0] },
          { x: qqXDomain[1], y: qqIntercept + qqSlope * qqXDomain[1] },
        ]}
        stroke="#8a8a8a"
        strokeWidth={1.5}
        ifOverflow="hidden"
      />
      <Scatter data={pts} shape={ringShape(2.7)} isAnimationActive={false} />
      <Scatter data={band} shape={ringShape(2.7)} isAnimationActive={false} />
    </ScatterChart>
  );
}

function ResidualPlot() {
  const passA = residualSampleA.map((res, k) => ({ obs: 1 + k * sampleStep, res }));
  const passB = residualSampleB.map((res, k) => ({ obs: 2 + k * sampleStep, res }));
  const extremes = residualExtremes.map(([obs, res]) => ({ obs, res }));
  return (
    <ScatterChart width={1180} height={317} margin={{ top: 41, right: 7, bottom: 0, left: 0 }}>
      <XAxis
        type="number"
        dataKey="obs"
        domain={obsDomain}
        allowDataOverflow
        ticks={obsTicks}
        interval={0}
        height={25}
        axisLine={false}
        tickSize={6}
        tickMargin={0}
        tickLine={{ stroke: axisInk }}
        tick={(p: any) => <BottomTick {...p} y={p.y - 0.5} />}
      />
      <YAxis
        type="number"
        dataKey="res"
        domain={resYDomain}
        allowDataOverflow
        ticks={resTicks}
        interval={0}
        width={51.7}
        axisLine={false}
        tickSize={6}
        tickMargin={0}
        tickLine={{ stroke: axisInk }}
        tick={leftTick(13.5)}
      />
      <ReferenceArea
        x1={obsDomain[0]}
        x2={obsDomain[1]}
        y1={resYDomain[0]}
        y2={resYDomain[1]}
        fill="none"
        stroke={axisInk}
        ifOverflow="visible"
      />
      <ReferenceLine
        segment={[{ x: obsTicks[0], y: resYDomain[0] }, { x: obsTicks[obsTicks.length - 1], y: resYDomain[0] }]}
        stroke={axisInk}
        strokeWidth={1.5}
        ifOverflow="visible"
      />
      <Scatter data={passA} shape={ringShape(2.8)} isAnimationActive={false} />
      <Scatter data={passB} shape={ringShape(2.8)} isAnimationActive={false} />
      <Scatter data={extremes} shape={ringShape(2.8)} isAnimationActive={false} />
    </ScatterChart>
  );
}

export default function App() {
  return (
    <div
      style={{
        position: 'absolute',
        left: 0,
        top: 0,
        width: 1167,
        height: 917,
        overflow: 'hidden',
        background: '#fff',
      }}
    >
      <Heading top={15} text="Analysis of Variance Table" />
      <AnovaTable />
      <Heading top={203} text="Checking the Residuals" />

      <div style={{ position: 'absolute', left: 0, top: 250 }}>
        <Histogram />
      </div>
      <AxisTitle x={312} y={565} text="Residuals" />
      <AxisTitle x={19} y={391} text="Density" rotate />

      <div style={{ position: 'absolute', left: 600, top: 225 }}>
        <QQPlot />
      </div>
      <AxisTitle x={914} y={240} text="Normal Q-Q Plot" size={13} bold />
      <AxisTitle x={913} y={566} text="Theoretical Quantiles" />
      <AxisTitle x={622} y={392} text="Sample Quantiles" rotate />

      <div style={{ position: 'absolute', left: 0, top: 600 }}>
        <ResidualPlot />
      </div>
      <AxisTitle x={5.5} y={766} text="Residuals" rotate />
    </div>
  );
}
